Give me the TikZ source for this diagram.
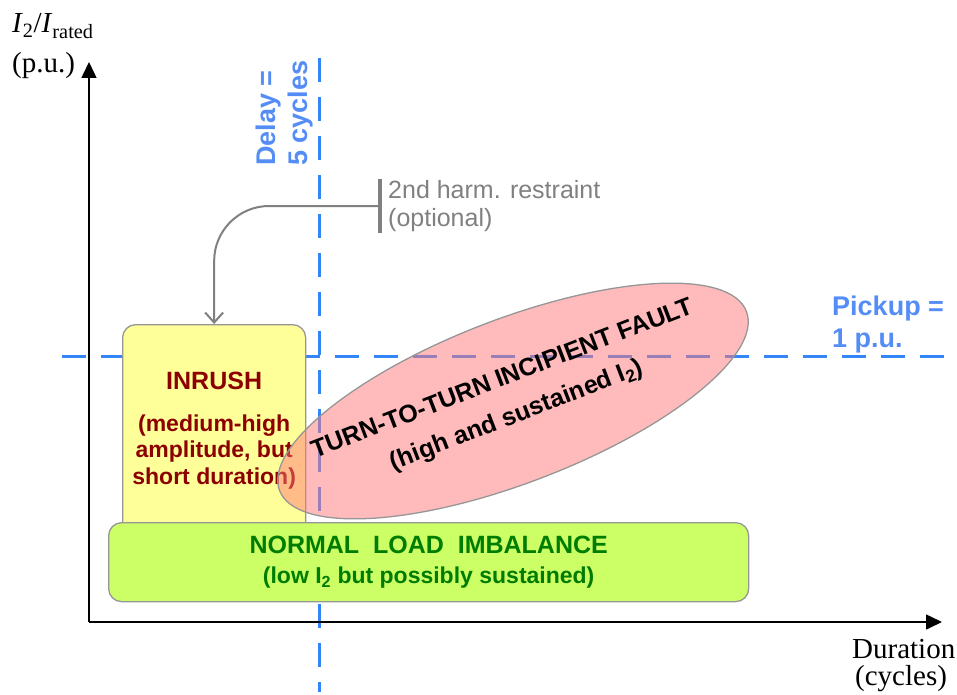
\documentclass[tikz,border=0pt]{standalone}
\usepackage{fontspec}
\setmainfont{Liberation Serif}
\newfontfamily\arial{Liberation Sans}
\usetikzlibrary{shapes.geometric,positioning,calc,arrows.meta}

\definecolor{refblue}{RGB}{51,133,250}
\definecolor{lblblue}{RGB}{84,141,245}
\definecolor{inrushred}{RGB}{140,0,0}
\definecolor{loadgreen}{RGB}{0,125,0}
\definecolor{boxgray}{RGB}{150,150,150}
\definecolor{harmgray}{RGB}{128,128,128}
\definecolor{inrushfill}{RGB}{255,255,153}
\definecolor{loadfill}{RGB}{204,255,102}
\definecolor{faultfill}{RGB}{255,120,120}

\begin{document}
\begin{tikzpicture}[x=1pt,y=-1pt,
  refline/.style={refblue,line width=3pt,dash pattern=on 24pt off 15pt},
  axisline/.style={line width=1.5pt,-{Triangle[length=16pt,width=15pt]}},
  axislabel/.style={inner sep=0pt,font=\fontsize{29pt}{34pt}\selectfont},
  bluelabel/.style={inner sep=0pt,text=lblblue,align=left,
    font=\arial\bfseries\fontsize{27pt}{32pt}\selectfont},
  zonebox/.style={draw=boxgray,line width=1.3pt,rounded corners=13pt,inner sep=0pt},
  inrushtext/.style={text=inrushred,align=center,inner sep=0pt,
    font=\arial\bfseries\fontsize{23pt}{26.5pt}\selectfont},
  faultell/.style={ellipse,draw=boxgray,line width=1.3pt,fill=faultfill,
    fill opacity=0.5,minimum width=500pt,minimum height=164pt,inner sep=0pt},
  faulttext/.style={align=center,inner sep=0pt,
    font=\arial\bfseries\fontsize{25pt}{39pt}\selectfont},
  harmtext/.style={text=harmgray,align=left,inner xsep=6pt,inner ysep=0pt,
    font=\arial\fontsize{25pt}{28pt}\selectfont},
  harmline/.style={harmgray,line width=2pt,rounded corners=55pt,
    {Bar[width=54pt,line width=4pt]}-{Straight Barb[length=10pt,width=18pt]}}]

\useasboundingbox (0,0) rectangle (957,695);

% axes and reference lines
\coordinate (o)    at ( 89,622);
\coordinate (xend) at (942,622);
\coordinate (yend) at ( 89, 62);
\coordinate (dtop) at (319, 58);
\coordinate (dbot) at (319,692);
\coordinate (pl)   at ( 62,356);
\coordinate (pr)   at (952,356);

\draw[refline] (dtop) -- (dbot);
\draw[refline] (pl) -- (pr);

% inrush zone
\node[zonebox,fill=inrushfill,minimum width=183pt,minimum height=215pt,
  anchor=north west] (inrush) at (122,324) {};
\node[inrushtext,font=\arial\bfseries\fontsize{25pt}{28pt}\selectfont]
  (inrushhead) at ($(inrush.north)+(0,57)$) {INRUSH};
\node[inrushtext] (inrushinfo) at ($(inrush.north)+(0,128)$)
  {(medium-high\\amplitude, but\\short duration)};

% turn-to-turn fault zone
\node[faultell,rotate=21] (fault) at (513,401) {};
\node[faulttext,rotate=21] (faultlbl) at ($(fault.center)+(-3,-3)$)
  {TURN-TO-TURN INCIPIENT FAULT\\(high and sustained I\textsubscript{2})};

% normal load zone
\node[zonebox,fill=loadfill,minimum width=640pt,minimum height=79pt,
  anchor=north west,text=loadgreen,align=center,
  font=\arial\bfseries\fontsize{23pt}{30pt}\selectfont] (normal) at (108,522)
  {\fontsize{25pt}{30pt}\selectfont NORMAL~~LOAD~~IMBALANCE\\
   (low I\textsubscript{2} but possibly sustained)};

\draw[axisline] (o) -- (xend);
\draw[axisline] (o) -- (yend);

\node[axislabel,anchor=base west] (ylbl)  at ( 12, 33)
  {\textit{I}\textsubscript{2}/\textit{I}\textsubscript{rated}};
\node[axislabel,anchor=base west] (yunit) at ( 12, 73) {(p.u.)};
\node[axislabel,anchor=base west] (xlbl)  at (852,658) {Duration};
\node[axislabel,anchor=base west] (xunit) at (855,685) {(cycles)};

\node[bluelabel,rotate=90,anchor=west] (delay) at (285,166) {Delay =\\5 cycles};
\node[bluelabel,anchor=north west] (pickup) at (832,296) {Pickup =\\1 p.u.};

% harmonic restraint
\node[harmtext,anchor=west] (harm) at (382,206) {2nd harm. restraint\\(optional)};
\draw[harmline] (harm.west) -| (inrush.north);

\end{tikzpicture}
\end{document}
